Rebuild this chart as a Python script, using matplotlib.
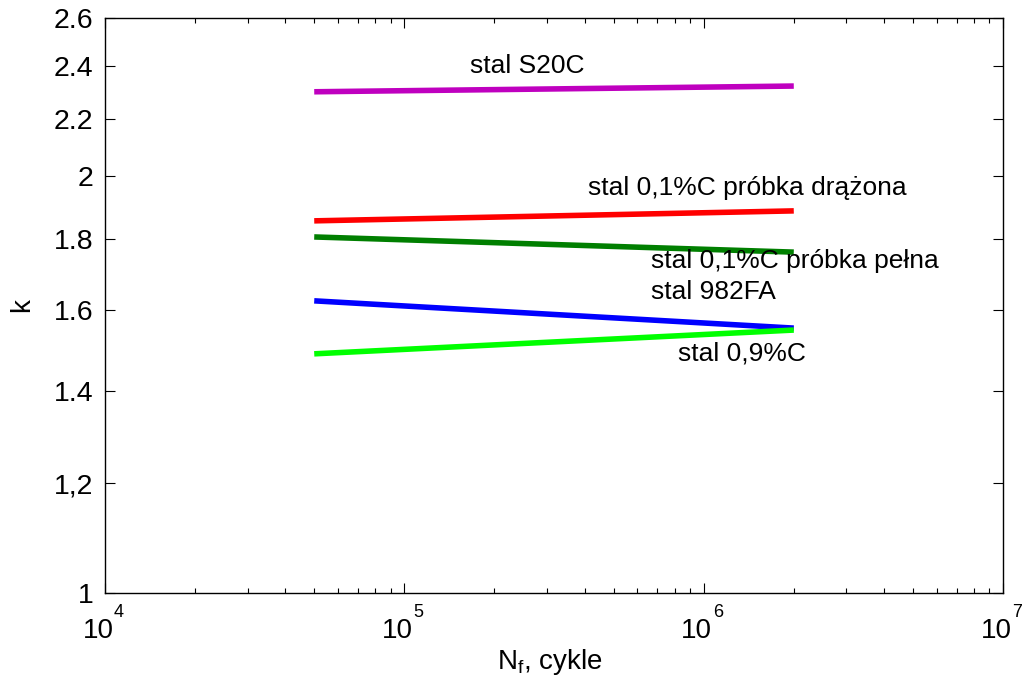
import matplotlib
matplotlib.use("Agg")
import matplotlib.pyplot as plt
from matplotlib.ticker import LogLocator, NullFormatter, FixedLocator, FixedFormatter

plt.rcParams['font.family'] = ['Liberation Sans', 'DejaVu Sans']
plt.rcParams['mathtext.fontset'] = 'custom'
plt.rcParams['mathtext.rm'] = 'Liberation Sans'
plt.rcParams['mathtext.it'] = 'Liberation Sans:italic'

# cycles to failure (endpoints of each line)
nf = [5e4, 2e6]

# k values at both ends
k_s20c = [2.30, 2.322]
k_drazona = [1.856, 1.887]
k_pelna = [1.807, 1.762]
k_982fa = [1.625, 1.553]
k_09c = [1.488, 1.548]

series_names = ['stal S20C', 'stal 0,1%C próbka drążona', 'stal 0,1%C próbka pełna',
                'stal 982FA', 'stal 0,9%C']
colors = ['#BF00BF', '#FF0000', '#007F00', '#0000FF', '#00FF00']

x_decades = [4, 5, 6, 7]
y_ticks = [1, 1.2, 1.4, 1.6, 1.8, 2, 2.2, 2.4, 2.6]
y_labels = ['1', '1,2', '1.4', '1.6', '1.8', '2', '2.2', '2.4', '2.6']

# label anchors (x, y) in data coords
label_pos = [(1.66e5, 2.40), (4.11e5, 1.96), (6.67e5, 1.737), (6.67e5, 1.649), (8.2e5, 1.488)]

fig = plt.figure(figsize=(10.29, 6.84), dpi=100)
ax = fig.add_axes([105 / 1029, 1 - 593 / 684, 898 / 1029, 575 / 684])

for k, c in zip([k_s20c, k_drazona, k_pelna, k_982fa, k_09c], colors):
    ax.plot(nf, k, color=c, linewidth=4.0, solid_capstyle='butt')

for name, (x, y) in zip(series_names, label_pos):
    ax.text(x, y, name, fontsize=19, ha='left', va='center')

ax.set_xscale('log')
ax.set_yscale('log')
ax.set_xlim(1e4, 1e7)
ax.set_ylim(1, 2.6)

ax.xaxis.set_major_locator(LogLocator(base=10, numticks=10))
ax.xaxis.set_minor_locator(LogLocator(base=10, subs=range(2, 10), numticks=10))
ax.xaxis.set_major_formatter(NullFormatter())
ax.xaxis.set_minor_formatter(NullFormatter())

# decade labels drawn by hand: "10" with a detached exponent
for d in x_decades:
    ax.annotate('10', xy=(10.0 ** d, 0), xycoords=('data', 'axes fraction'),
                xytext=(-7, -45), textcoords='offset pixels',
                ha='center', va='baseline', fontsize=20)
    ax.annotate(str(d), xy=(10.0 ** d, 0), xycoords=('data', 'axes fraction'),
                xytext=(9, -24), textcoords='offset pixels',
                ha='left', va='baseline', fontsize=13)

ax.yaxis.set_major_locator(FixedLocator(y_ticks))
ax.yaxis.set_major_formatter(FixedFormatter(y_labels))
ax.yaxis.set_minor_locator(FixedLocator([]))

ax.tick_params(which='both', direction='in', top=True, right=True, labelsize=20.5)
ax.tick_params(which='major', length=7, width=0.8)
ax.tick_params(which='minor', length=3.5, width=0.8)
ax.tick_params(axis='y', pad=8.5)

ax.set_xlabel(r'N$_{\rm f}$, cykle', fontsize=20)
ax.xaxis.set_label_coords(0.495, -0.094)
ax.set_ylabel('k', fontsize=20, labelpad=13)

for s in ax.spines.values():
    s.set_linewidth(1.0)

fig.savefig('out.png', dpi=100)
